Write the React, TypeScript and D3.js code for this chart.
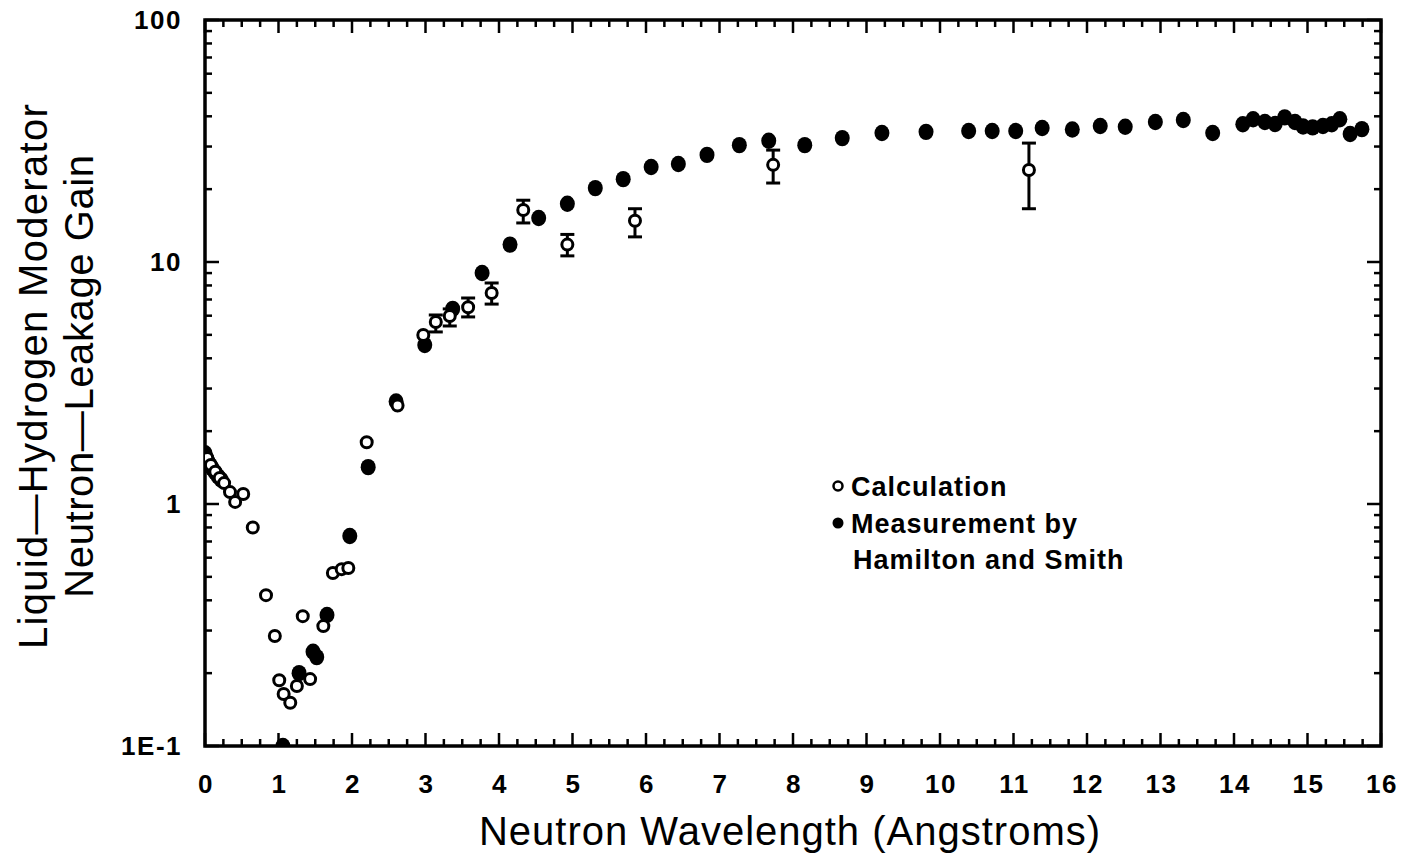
import React from "react";
import * as d3 from "d3";

// Calculation (open circles); lo/hi = error bar ends, null when no bar
const calcX = [0.03, 0.08, 0.14, 0.2, 0.26, 0.34, 0.41, 0.52, 0.65, 0.83, 0.95, 1.01, 1.07, 1.16, 1.25, 1.33, 1.43, 1.61, 1.74, 1.86, 1.95, 2.2, 2.62, 2.97, 3.14, 3.33, 3.58, 3.9, 4.33, 4.93, 5.85, 7.73, 11.21];
const calcY = [1.55, 1.45, 1.36, 1.28, 1.22, 1.12, 1.02, 1.1, 0.8, 0.42, 0.285, 0.187, 0.164, 0.151, 0.177, 0.344, 0.189, 0.313, 0.519, 0.538, 0.544, 1.8, 2.55, 4.99, 5.65, 5.98, 6.5, 7.45, 16.4, 11.8, 14.8, 25.2, 24.0];
const calcLo = [null, null, null, null, null, null, null, null, null, null, null, null, null, null, null, null, null, null, null, null, null, null, null, null, 5.14, 5.44, 5.93, 6.7, 14.5, 10.6, 12.7, 21.2, 16.6];
const calcHi = [null, null, null, null, null, null, null, null, null, null, null, null, null, null, null, null, null, null, null, null, null, null, null, null, 6.04, 6.4, 7.1, 8.19, 18.0, 13.0, 16.6, 29.0, 31.0];

// Measurement by Hamilton and Smith (filled circles)
const measX = [0.0, 0.02, 0.04, 0.07, 0.1, 0.14, 0.18, 0.22, 1.06, 1.28, 1.47, 1.52, 1.66, 1.97, 2.22, 2.6, 2.99, 3.37, 3.77, 4.15, 4.54, 4.93, 5.31, 5.69, 6.07, 6.44, 6.83, 7.27, 7.67, 8.16, 8.67, 9.21, 9.81, 10.39, 10.71, 11.03, 11.39, 11.8, 12.18, 12.52, 12.93, 13.31, 13.71, 14.12, 14.26, 14.42, 14.56, 14.69, 14.83, 14.94, 15.07, 15.21, 15.33, 15.44, 15.58, 15.74];
const measY = [1.62, 1.55, 1.5, 1.45, 1.4, 1.35, 1.3, 1.26, 0.1, 0.2, 0.245, 0.233, 0.348, 0.738, 1.42, 2.65, 4.54, 6.4, 9.0, 11.8, 15.2, 17.4, 20.2, 22.0, 24.7, 25.4, 27.7, 30.4, 31.7, 30.4, 32.5, 34.1, 34.5, 34.8, 34.8, 34.8, 35.8, 35.3, 36.5, 36.2, 37.9, 38.6, 34.1, 37.1, 38.9, 37.9, 37.2, 39.6, 37.9, 36.3, 36.0, 36.5, 37.1, 38.9, 33.8, 35.4];

const xTicks = [0, 1, 2, 3, 4, 5, 6, 7, 8, 9, 10, 11, 12, 13, 14, 15, 16];
const yTicks = [0.1, 1, 10, 100];
const yTickLabels = ["1E-1", "1", "10", "100"];

const W = 1412;
const H = 858;
const left = 205, right = 1381, top = 20, bottom = 746;

const font = "'Liberation Sans', Arial, sans-serif";

export default function App() {
  const x = d3.scaleLinear().domain([0, 16]).range([left, right]);
  const y = d3.scaleLog().domain([0.1, 100]).range([bottom, top]);

  const xMinor = d3.range(0, 16.001, 0.25).filter((v) => Math.abs(v - Math.round(v)) > 1e-6);
  const yMinor: number[] = [];
  [0.1, 1, 10].forEach((dec) => {
    for (let k = 2; k <= 9; k++) yMinor.push(dec * k);
  });

  return (
    <svg width={W} height={H} style={{ position: "absolute", left: 0, top: 0, background: "#fff" }}>
      <defs>
        <clipPath id="plot">
          <rect x={left} y={top} width={right - left} height={bottom - top} />
        </clipPath>
      </defs>

      {/* ticks, inward on all four sides */}
      <g stroke="#000" strokeWidth={2.5}>
        {xTicks.map((v) => (
          <g key={"xt" + v}>
            <line x1={x(v)} x2={x(v)} y1={bottom} y2={bottom - 13} />
            <line x1={x(v)} x2={x(v)} y1={top} y2={top + 13} />
          </g>
        ))}
        {xMinor.map((v) => (
          <g key={"xm" + v}>
            <line x1={x(v)} x2={x(v)} y1={bottom} y2={bottom - 7} />
            <line x1={x(v)} x2={x(v)} y1={top} y2={top + 7} />
          </g>
        ))}
        {yTicks.map((v) => (
          <g key={"yt" + v}>
            <line x1={left} x2={left + 14} y1={y(v)} y2={y(v)} />
            <line x1={right} x2={right - 14} y1={y(v)} y2={y(v)} />
          </g>
        ))}
        {yMinor.map((v) => (
          <g key={"ym" + v}>
            <line x1={left} x2={left + 7} y1={y(v)} y2={y(v)} />
            <line x1={right} x2={right - 7} y1={y(v)} y2={y(v)} />
          </g>
        ))}
      </g>
      <rect x={left} y={top} width={right - left} height={bottom - top} fill="none" stroke="#000" strokeWidth={3.5} />

      {/* tick labels */}
      <g fontFamily={font} fontWeight="bold" fontSize={26} fill="#000" letterSpacing={1.5}>
        {xTicks.map((v) => (
          <text key={"xl" + v} x={x(v) + 1} y={793} textAnchor="middle">{v}</text>
        ))}
        {yTicks.map((v, i) => (
          <text key={"yl" + v} x={182} y={y(v) + 9} textAnchor="end">{yTickLabels[i]}</text>
        ))}
      </g>

      {/* axis titles */}
      <text x={790} y={845} textAnchor="middle" fontFamily={font} fontSize={40} letterSpacing={1} fill="#000">
        Neutron Wavelength (Angstroms)
      </text>
      <g transform="translate(0,376) rotate(-90)" fontFamily={font} fontSize={40} fill="#000" textAnchor="middle">
        <text x={0} y={47} letterSpacing={1.3}>Liquid—Hydrogen Moderator</text>
        <text x={0} y={93} letterSpacing={0.6}>Neutron—Leakage Gain</text>
      </g>

      <g clipPath="url(#plot)">
        {/* measurement */}
        {measX.map((v, i) => (
          <ellipse key={"m" + i} cx={x(v)} cy={y(measY[i])} rx={7.5} ry={8.2} fill="#000" />
        ))}
        {/* calculation error bars */}
        <g stroke="#000" strokeWidth={3}>
          {calcX.map((v, i) =>
            calcLo[i] == null ? null : (
              <g key={"e" + i}>
                <line x1={x(v)} x2={x(v)} y1={y(calcLo[i] as number)} y2={y(calcHi[i] as number)} />
                <line x1={x(v) - 7} x2={x(v) + 7} y1={y(calcLo[i] as number)} y2={y(calcLo[i] as number)} />
                <line x1={x(v) - 7} x2={x(v) + 7} y1={y(calcHi[i] as number)} y2={y(calcHi[i] as number)} />
              </g>
            )
          )}
        </g>
        {/* calculation */}
        {calcX.map((v, i) => (
          <circle key={"c" + i} cx={x(v)} cy={y(calcY[i])} r={5.5} fill="#fff" stroke="#000" strokeWidth={3} />
        ))}
      </g>

      {/* legend */}
      <circle cx={838} cy={486} r={4.5} fill="#fff" stroke="#000" strokeWidth={2.5} />
      <circle cx={838} cy={523} r={5.5} fill="#000" />
      <g fontFamily={font} fontWeight="bold" fontSize={27} letterSpacing={1} fill="#000">
        <text x={851} y={496}>Calculation</text>
        <text x={851} y={533}>Measurement by</text>
        <text x={853} y={569}>Hamilton and Smith</text>
      </g>
    </svg>
  );
}
